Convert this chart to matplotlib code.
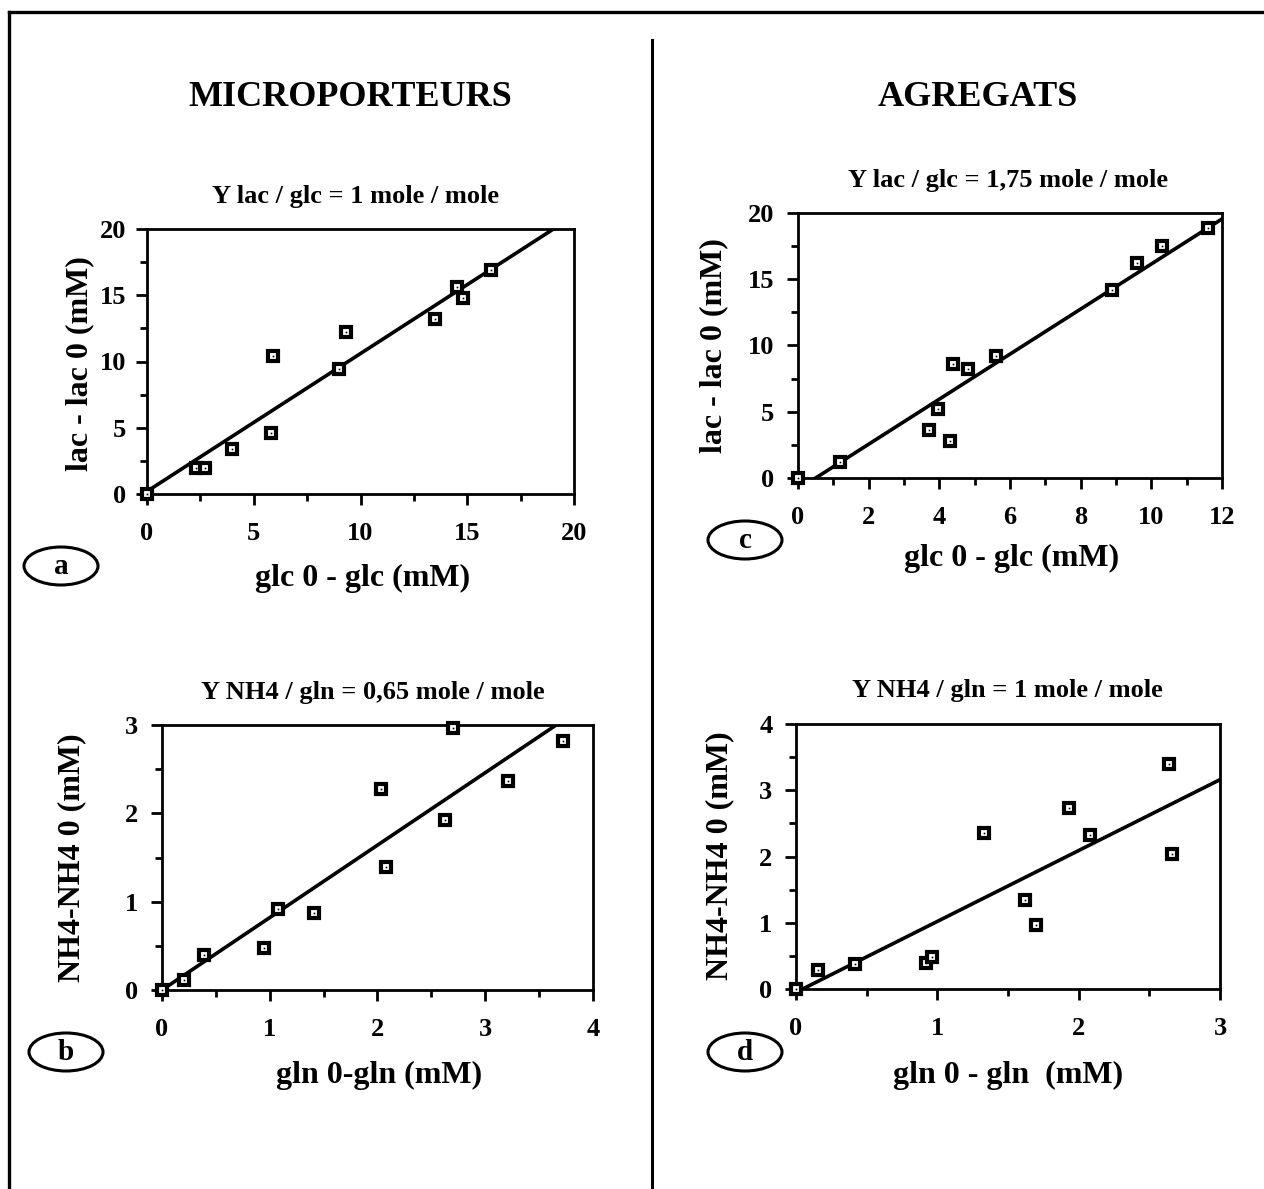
import matplotlib
matplotlib.use("Agg")
import matplotlib.pyplot as plt
from matplotlib.lines import Line2D
from matplotlib.patches import Ellipse
from matplotlib.ticker import MultipleLocator

plt.rcParams['font.family'] = ['Liberation Serif', 'DejaVu Serif']
plt.rcParams['font.weight'] = 'bold'

# ---------------- data ----------------
# (a) microporteurs : lactate vs glucose
a_x = [0.0, 2.3, 2.7, 4.0, 5.8, 5.9, 9.0, 9.3, 13.5, 14.5, 14.8, 16.1]
a_y = [0.0, 2.0, 2.0, 3.4, 4.6, 10.4, 9.4, 12.2, 13.2, 15.6, 14.8, 16.9]
a_fit = (1.04, 0.2)          # slope, intercept

# (c) agregats : lactate vs glucose
c_x = [0.0, 1.2, 3.7, 3.95, 4.3, 4.4, 4.8, 5.6, 8.9, 9.6, 10.3, 11.6]
c_y = [0.0, 1.2, 3.6, 5.2, 2.8, 8.6, 8.2, 9.2, 14.2, 16.2, 17.5, 18.9]
c_fit = (1.70, -0.85)

# (b) microporteurs : NH4 vs glutamine
b_x = [0.0, 0.2, 0.39, 0.95, 1.08, 1.41, 2.03, 2.08, 2.63, 2.70, 3.21, 3.72]
b_y = [0.0, 0.11, 0.40, 0.48, 0.92, 0.87, 2.28, 1.39, 1.92, 2.97, 2.37, 2.82]
b_fit = (0.82, 0.0)

# (d) agregats : NH4 vs glutamine
d_x = [0.0, 0.155, 0.42, 0.92, 0.96, 1.33, 1.62, 1.70, 1.93, 2.08, 2.64, 2.66]
d_y = [0.0, 0.28, 0.37, 0.39, 0.48, 2.36, 1.34, 0.97, 2.73, 2.33, 3.40, 2.04]
d_fit = (1.07, -0.05)

headers = ["MICROPORTEURS", "AGREGATS"]
titles = ["Y lac / glc = 1 mole / mole", "Y lac / glc = 1,75 mole / mole",
          "Y NH4 / gln = 0,65 mole / mole", "Y NH4 / gln = 1 mole / mole"]
xlabels = ["glc 0 - glc (mM)", "glc 0 - glc (mM)", "gln 0-gln (mM)", "gln 0 - gln  (mM)"]
ylabels = ["lac - lac 0 (mM)", "lac - lac 0 (mM)", "NH4-NH4 0 (mM)", "NH4-NH4 0 (mM)"]
letters = ["a", "c", "b", "d"]

W, H = 1264, 1189
fig = plt.figure(figsize=(W / 100, H / 100), dpi=100)
fig.patch.set_facecolor('white')


def fx(x):
    return x / W


def fy(y):
    return 1 - y / H


def add_ax(x0, x1, y0, y1):
    return fig.add_axes([fx(x0), fy(y1), (x1 - x0) / W, (y1 - y0) / H])


panels = [
    # axes box px, data, fit, limits, major/minor ticks
    dict(box=(147, 574, 229, 494), x=a_x, y=a_y, fit=a_fit, xlim=(0, 20), ylim=(0, 20),
         xmaj=5, xmin=2.5, ymaj=5, ymin=2.5, ypad=7,
         title=(356, 196), xl=(363, 578), yl=(80, 364), ell=(61, 566)),
    dict(box=(798, 1222, 213, 478), x=c_x, y=c_y, fit=c_fit, xlim=(0, 12), ylim=(0, 20),
         xmaj=2, xmin=1, ymaj=5, ymin=2.5, ypad=9,
         title=(1008, 181), xl=(1012, 558), yl=(714, 346), ell=(745, 540)),
    dict(box=(162, 593, 725, 990), x=b_x, y=b_y, fit=b_fit, xlim=(0, 4), ylim=(0, 3),
         xmaj=1, xmin=0.5, ymaj=1, ymin=0.5, ypad=9,
         title=(373, 692), xl=(379, 1075), yl=(72, 858), ell=(66, 1052)),
    dict(box=(796, 1220, 724, 989), x=d_x, y=d_y, fit=d_fit, xlim=(0, 3), ylim=(0, 4),
         xmaj=1, xmin=0.5, ymaj=1, ymin=0.5, ypad=9,
         title=(1007, 690), xl=(1008, 1075), yl=(720, 856), ell=(745, 1052)),
]

for i, p in enumerate(panels):
    x0, x1, y0, y1 = p['box']
    ax = add_ax(x0, x1, y0, y1)
    ax.set_xlim(*p['xlim'])
    ax.set_ylim(*p['ylim'])
    ax.xaxis.set_major_locator(MultipleLocator(p['xmaj']))
    ax.xaxis.set_minor_locator(MultipleLocator(p['xmin']))
    ax.yaxis.set_major_locator(MultipleLocator(p['ymaj']))
    ax.yaxis.set_minor_locator(MultipleLocator(p['ymin']))
    for s in ax.spines.values():
        s.set_linewidth(2.0)
    ax.tick_params(which='major', direction='out', length=8, width=2.0, labelsize=19)
    ax.tick_params(which='minor', direction='out', length=5, width=2.0)
    ax.tick_params(axis='x', which='major', pad=12)
    ax.tick_params(axis='y', which='major', pad=p['ypad'])
    for lab in ax.get_xticklabels() + ax.get_yticklabels():
        lab.set_fontweight('bold')
    slope, icpt = p['fit']
    ax.axline((0, icpt), slope=slope, color='black', lw=2.6, zorder=2)
    ax.plot(p['x'], p['y'], linestyle='none', marker='s', ms=7.0, mew=3.0,
            mfc='white', mec='black', clip_on=False, zorder=3)
    ax.plot(p['x'], p['y'], linestyle='none', marker='s', ms=1.2, mew=0,
            mfc='black', clip_on=False, zorder=4)

    tx, ty = p['title']
    fig.text(fx(tx), fy(ty), titles[i], ha='center', va='center', fontsize=19,
             fontweight='bold')
    lx, ly = p['xl']
    fig.text(fx(lx), fy(ly), xlabels[i], ha='center', va='center', fontsize=23,
             fontweight='bold')
    vx, vy = p['yl']
    fig.text(fx(vx), fy(vy), ylabels[i], ha='center', va='center', fontsize=23,
             fontweight='bold', rotation=90)
    ex, ey = p['ell']
    fig.add_artist(Ellipse((ex / 100, (H - ey) / 100), 0.74, 0.38,
                           transform=fig.dpi_scale_trans, fill=False,
                           edgecolor='black', lw=2.2))
    fig.text(fx(ex), fy(ey + 1), letters[i], ha='center', va='center', fontsize=21,
             fontweight='bold')

# headers
fig.text(fx(350), fy(97), headers[0], ha='center', va='center', fontsize=26,
         fontweight='bold')
fig.text(fx(978), fy(97), headers[1], ha='center', va='center', fontsize=26,
         fontweight='bold')

# frame lines
fig.add_artist(Line2D([fx(9), fx(W)], [fy(12), fy(12)], color='black', lw=2.4,
                      transform=fig.transFigure))
fig.add_artist(Line2D([fx(9), fx(9)], [fy(12), fy(H)], color='black', lw=2.4,
                      transform=fig.transFigure))
fig.add_artist(Line2D([fx(652), fx(652)], [fy(40), fy(H)], color='black', lw=2.2,
                      transform=fig.transFigure))

fig.savefig("out.png", dpi=100, facecolor='white')
